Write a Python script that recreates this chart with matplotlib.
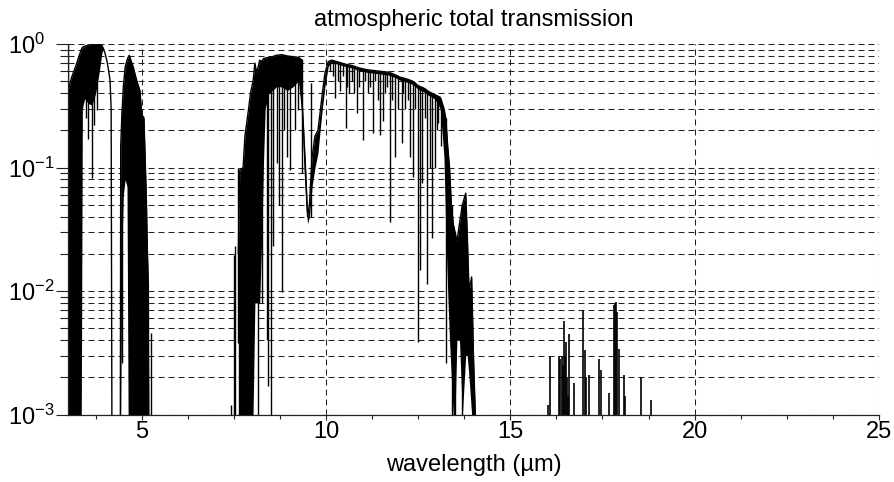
import numpy as np
import matplotlib
matplotlib.use("Agg")
import matplotlib.pyplot as plt
from matplotlib.ticker import FixedLocator, FixedFormatter, MultipleLocator, NullFormatter

plt.rcParams["font.family"] = ["Liberation Sans", "DejaVu Sans"]
plt.rcParams["mathtext.default"] = "regular"
plt.rcParams["lines.scale_dashes"] = False

# ---- band 1 (3 - 4.2 um): envelope top / bottom of the dense lines
b1_wl = [3.00, 3.10, 3.20, 3.30, 3.36, 3.39, 3.45, 3.55, 3.65, 3.75, 3.85, 3.92, 3.96,
         4.00, 4.05, 4.09, 4.14, 4.17, 4.19]
b1_top = [0.42, 0.54, 0.65, 0.80, 0.90, 0.94, 0.96, 0.98, 0.99, 1.00, 0.99, 0.97, 0.92,
          0.85, 0.74, 0.64, 0.51, 0.30, 0.001]
b1_bot = [0.001, 0.001, 0.001, 0.001, 0.001, 0.30, 0.36, 0.33, 0.32, 0.40, 0.60, 0.85, 0.92,
          0.85, 0.74, 0.64, 0.51, 0.30, 0.001]

# ---- band 2 (4.4 - 5.2 um)
b2_wl = [4.42, 4.43, 4.46, 4.50, 4.55, 4.60, 4.63, 4.66, 4.72, 4.77, 4.86, 4.95, 5.00,
         5.06, 5.11, 5.13, 5.15, 5.18, 5.19]
b2_top = [0.001, 0.15, 0.26, 0.45, 0.65, 0.74, 0.78, 0.81, 0.72, 0.65, 0.51, 0.42, 0.27,
          0.25, 0.08, 0.048, 0.023, 0.011, 0.001]
b2_bot = [0.001, 0.001, 0.02, 0.06, 0.08, 0.07, 0.001, 0.001, 0.001, 0.001, 0.001, 0.001, 0.001,
          0.001, 0.001, 0.001, 0.001, 0.001, 0.001]

# ---- band 3 (7.6 - 14 um), the main window
b3_wl = [7.62, 7.66, 7.75, 7.80, 7.90, 7.95, 8.02, 8.07, 8.12, 8.20,
         8.26, 8.30, 8.35, 8.45, 8.55, 8.65, 8.80, 8.95, 9.10, 9.25,
         9.33, 9.36, 9.40, 9.45, 9.50, 9.55, 9.62, 9.70, 9.78, 9.84,
         9.90, 9.97, 10.06, 10.15, 10.30, 10.50, 10.70, 10.90, 11.10, 11.30,
         11.50, 11.70, 11.90, 12.00, 12.20, 12.35, 12.50, 12.65, 12.80, 12.95,
         13.10, 13.20, 13.25, 13.30, 13.35, 13.40, 13.45, 13.50, 13.55, 13.62,
         13.70, 13.79, 13.83, 13.88, 13.95, 14.00, 14.05]
b3_top = [0.02, 0.095, 0.10, 0.18, 0.30, 0.40, 0.50, 0.70, 0.58, 0.74,
          0.72, 0.76, 0.77, 0.78, 0.79, 0.81, 0.82, 0.80, 0.79, 0.78,
          0.75, 0.30, 0.18, 0.09, 0.04, 0.05, 0.12, 0.18, 0.20, 0.28,
          0.40, 0.58, 0.72, 0.74, 0.72, 0.69, 0.67, 0.64, 0.62, 0.61,
          0.60, 0.59, 0.56, 0.54, 0.52, 0.50, 0.46, 0.44, 0.41, 0.39,
          0.37, 0.30, 0.25, 0.15, 0.10, 0.05, 0.035, 0.03, 0.025, 0.035,
          0.05, 0.062, 0.03, 0.01, 0.013, 0.003, 0.001]
b3_bot = [0.001, 0.001, 0.001, 0.001, 0.001, 0.001, 0.001, 0.008, 0.008, 0.008,
          0.03, 0.10, 0.30, 0.40, 0.42, 0.45, 0.45, 0.42, 0.45, 0.50,
          0.30, 0.20, 0.10, 0.05, 0.035, 0.04, 0.07, 0.10, 0.13, 0.20,
          0.30, 0.45, 0.66, 0.70, 0.69, 0.66, 0.64, 0.61, 0.59, 0.58,
          0.57, 0.56, 0.53, 0.51, 0.49, 0.47, 0.43, 0.41, 0.38, 0.36,
          0.30, 0.12, 0.03, 0.01, 0.004, 0.002, 0.001, 0.001, 0.004, 0.004,
          0.001, 0.003, 0.003, 0.002, 0.001, 0.001, 0.001]

# ---- single absorption lines: wavelength, lowest and highest transmission
line_wl = [3.01, 3.50, 3.55, 3.64, 3.70, 3.78,
           4.47, 5.04, 5.24,
           7.42, 7.49, 7.53, 7.62, 8.16, 8.25, 8.39, 8.43, 8.50, 8.57, 8.66,
           8.73, 8.80, 8.87, 8.93, 9.02, 9.16, 9.25, 9.34, 9.59,
           10.10, 10.18, 10.24, 10.32, 10.38, 10.45, 10.53, 10.58, 10.62, 10.70,
           10.76, 10.83, 10.90, 10.99, 11.05, 11.15, 11.20, 11.28, 11.34, 11.40,
           11.47, 11.54, 11.60, 11.66, 11.74, 11.80, 11.87, 11.95, 12.05, 12.10,
           12.15, 12.22, 12.28, 12.37, 12.42, 12.50, 12.55, 12.60, 12.68, 12.73,
           12.82, 12.87, 12.96, 13.00, 13.05, 13.12, 13.25, 13.42, 13.50, 13.68]
line_lo = [0.42, 0.25, 0.17, 0.082, 0.22, 0.29,
           0.0026, 0.001, 0.001,
           0.001, 0.001, 0.001, 0.0038, 0.001, 0.008, 0.004, 0.0017, 0.001, 0.023, 0.108,
           0.05, 0.0099, 0.20, 0.122, 0.095, 0.20, 0.29, 0.09, 0.04,
           0.60, 0.55, 0.365, 0.50, 0.42, 0.55, 0.21, 0.45, 0.40, 0.50,
           0.40, 0.276, 0.45, 0.167, 0.50, 0.40, 0.45, 0.19, 0.50, 0.35,
           0.184, 0.24, 0.40, 0.45, 0.036, 0.35, 0.122, 0.30, 0.157, 0.40,
           0.30, 0.35, 0.122, 0.084, 0.30, 0.0039, 0.0148, 0.075, 0.25, 0.0115,
           0.10, 0.027, 0.099, 0.20, 0.23, 0.15, 0.0026, 0.001, 0.001, 0.001]
line_hi = [1.0, 0.97, 0.98, 0.99, 1.0, 1.0,
           0.30, 0.26, 0.0046,
           0.0012, 0.0195, 0.023, 0.10, 0.60, 0.74, 0.77, 0.77, 0.78, 0.79, 0.81,
           0.81, 0.82, 0.81, 0.80, 0.80, 0.79, 0.78, 0.75, 0.48,
           0.73, 0.74, 0.73, 0.72, 0.71, 0.70, 0.69, 0.68, 0.68, 0.67,
           0.66, 0.65, 0.64, 0.63, 0.63, 0.62, 0.62, 0.61, 0.61, 0.60,
           0.60, 0.60, 0.60, 0.59, 0.59, 0.58, 0.56, 0.55, 0.54, 0.53,
           0.53, 0.52, 0.51, 0.50, 0.49, 0.46, 0.45, 0.45, 0.44, 0.42,
           0.41, 0.40, 0.39, 0.38, 0.38, 0.36, 0.25, 0.05, 0.03, 0.05]

# ---- weak transmission peaks beyond 16 um
spk_wl = [16.03, 16.08, 16.33, 16.36, 16.39, 16.42, 16.46, 16.49, 16.51, 16.53, 16.56, 16.59,
          16.73, 16.98, 17.03, 17.06, 17.13, 17.41, 17.46, 17.69, 17.81, 17.85, 17.87,
          17.90, 17.96, 18.08, 18.12, 18.55, 18.81]
spk_pk = [0.0012, 0.0030, 0.0030, 0.0028, 0.0030, 0.0025, 0.0057, 0.0030, 0.0039, 0.0020, 0.0014,
          0.0045, 0.0018, 0.0070, 0.0033, 0.0020, 0.0021, 0.0028, 0.0023, 0.0015, 0.0077, 0.0080,
          0.0082, 0.0068, 0.0034, 0.0021, 0.0014, 0.0020, 0.0013]

x_ticks = [5, 10, 15, 20, 25]
y_ticks = [1e-3, 1e-2, 1e-1, 1e0]
y_labels = [r"$10^{-3}$", r"$10^{-2}$", r"$10^{-1}$", r"$10^{0}$"]

fig = plt.figure(figsize=(8.95, 4.82), dpi=100)
ax = fig.add_axes([0.076, 0.140, 0.906, 0.7687])

for wl, top, bot in [(b1_wl, b1_top, b1_bot), (b2_wl, b2_top, b2_bot), (b3_wl, b3_top, b3_bot)]:
    ax.fill_between(wl, bot, top, color="k", lw=0)
    ax.plot(wl, top, color="k", lw=1.0)
ax.vlines(line_wl, line_lo, line_hi, color="k", lw=1.0)
ax.vlines(spk_wl, 1e-3, spk_pk, color="k", lw=1.2)

ax.set_yscale("log")
ax.set_xlim(3, 25)
ax.set_ylim(1e-3, 1)

ax.xaxis.set_major_locator(FixedLocator(x_ticks))
ax.xaxis.set_minor_locator(MultipleLocator(1.25))
ax.yaxis.set_major_locator(FixedLocator(y_ticks))
ax.yaxis.set_major_formatter(FixedFormatter(y_labels))
ax.yaxis.set_minor_locator(matplotlib.ticker.LogLocator(subs=np.arange(2, 10)))
ax.yaxis.set_minor_formatter(NullFormatter())

ax.set_axisbelow(True)
dash = (0, (4.3, 2.9))
ax.grid(True, axis="y", which="both", color="#222222", lw=0.75, linestyle=dash)
ax.grid(True, axis="x", which="major", color="#222222", lw=0.75, linestyle=dash)

for s in ["top", "right"]:
    ax.spines[s].set_visible(False)
for s in ["left", "bottom"]:
    ax.spines[s].set_linewidth(0.9)
    ax.spines[s].set_color("#222222")

ax.tick_params(axis="both", which="both", direction="out", labelsize=17, color="#222222")
ax.tick_params(axis="y", which="major", length=9, width=0.8, pad=34)
ax.tick_params(axis="y", which="minor", length=5.5, width=0.8)
ax.tick_params(axis="x", which="major", length=3.6, width=0.8, pad=1)
ax.tick_params(axis="x", which="minor", length=2.6, width=0.8)
for lab in ax.get_yticklabels():
    lab.set_horizontalalignment("left")

ax.set_title("atmospheric total transmission", fontsize=17, pad=13)
ax.set_xlabel("wavelength (µm)", fontsize=17, labelpad=8)

fig.savefig("out.png", dpi=100)
